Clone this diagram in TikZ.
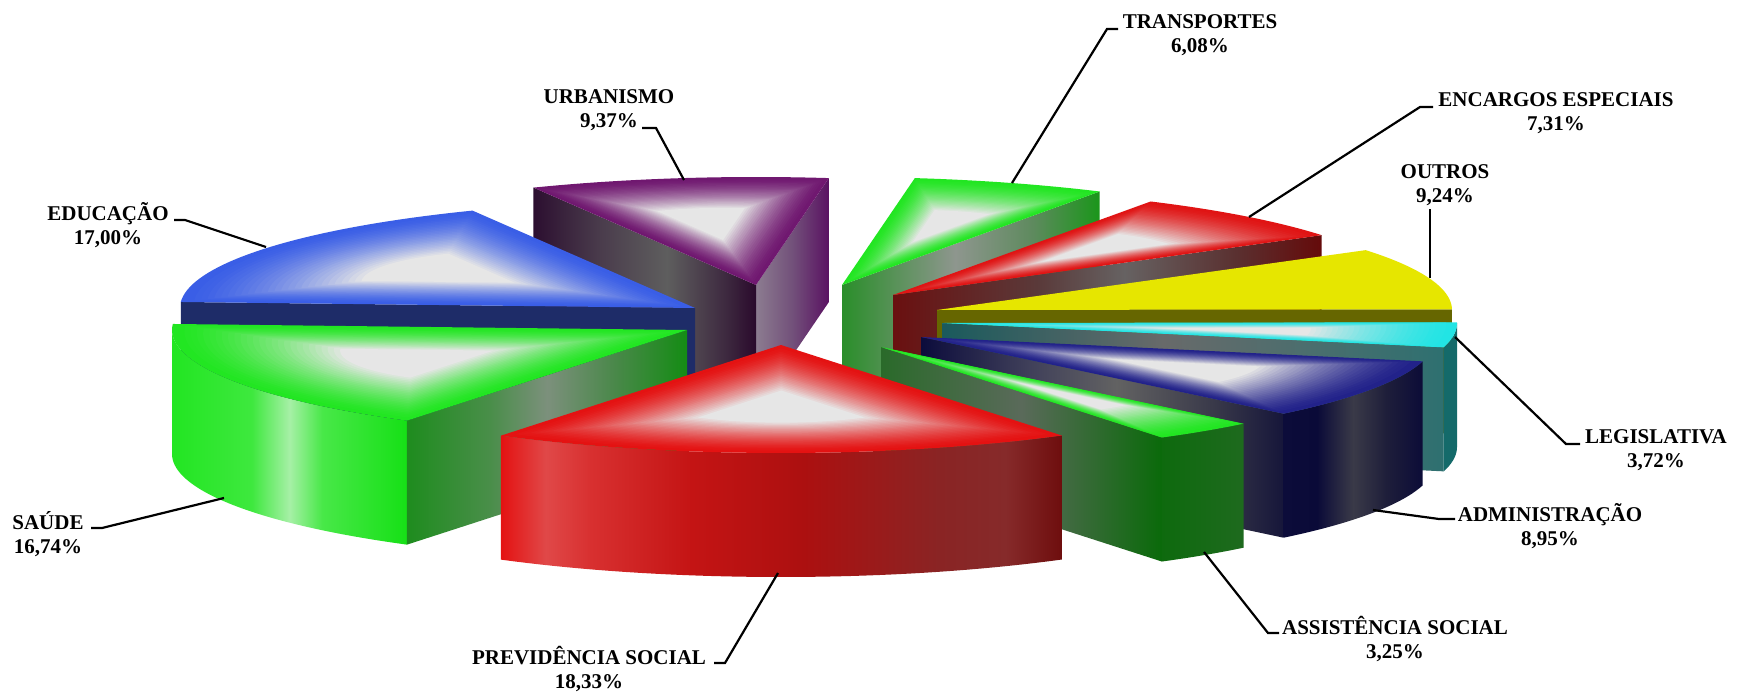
\documentclass[tikz,border=0pt]{standalone}
\usepackage{fontspec}
\setmainfont{Liberation Serif}
\def\RX{515}
\def\RY{108}
\def\DP{124}
% colours
\definecolor{hl}{HTML}{E6E6E6}
\definecolor{urbT}{HTML}{701870}
\definecolor{traT}{HTML}{22E622}
\definecolor{encT}{HTML}{E01414}
\definecolor{outT}{HTML}{E6E600}
\definecolor{outS}{HTML}{666600}
\definecolor{legT}{HTML}{22E4E4}
\definecolor{legO}{HTML}{146A6A}
\definecolor{admT}{HTML}{22228A}
\definecolor{assT}{HTML}{22E622}
\definecolor{eduT}{HTML}{3A5EE6}
\definecolor{eduS}{HTML}{1E2C68}
\definecolor{sauT}{HTML}{22E622}
\definecolor{preT}{HTML}{E41212}
\definecolor{uL0}{HTML}{2C0F30}\definecolor{uL1}{HTML}{4A3C4C}\definecolor{uL2}{HTML}{5E5E5E}\definecolor{uL3}{HTML}{3E2A40}\definecolor{uL4}{HTML}{2A0A2C}
\definecolor{uR0}{HTML}{8C7C90}\definecolor{uR1}{HTML}{72507A}\definecolor{uR2}{HTML}{5A1262}
\definecolor{tR0}{HTML}{2A8E2A}\definecolor{tR1}{HTML}{8E968E}\definecolor{tR2}{HTML}{5E8A5E}\definecolor{tR3}{HTML}{1A961A}
\definecolor{eR0}{HTML}{6A1010}\definecolor{eR1}{HTML}{5A3A3A}\definecolor{eR2}{HTML}{666262}\definecolor{eR3}{HTML}{5A3030}\definecolor{eR4}{HTML}{650A0A}
\definecolor{lR0}{HTML}{1A5A5C}\definecolor{lR1}{HTML}{686A6A}\definecolor{lR2}{HTML}{4A6E6E}\definecolor{lR3}{HTML}{2E7070}
\definecolor{aR0}{HTML}{0C0C3C}\definecolor{aR1}{HTML}{40405A}\definecolor{aR2}{HTML}{626262}\definecolor{aR3}{HTML}{3A3A4A}\definecolor{aR4}{HTML}{16163A}
\definecolor{aO0}{HTML}{0C0C3A}\definecolor{aO1}{HTML}{0A0A38}\definecolor{aO2}{HTML}{3A3A48}\definecolor{aO3}{HTML}{1E1E3A}\definecolor{aO4}{HTML}{0C0C38}
\definecolor{sR0}{HTML}{2A6A2A}\definecolor{sR1}{HTML}{5A6A5A}\definecolor{sR2}{HTML}{2A6A2A}\definecolor{sR3}{HTML}{0A6A0A}
\definecolor{sO0}{HTML}{0E6A0E}\definecolor{sO1}{HTML}{1E6A1E}
\definecolor{gO0}{HTML}{22E622}\definecolor{gO1}{HTML}{3EE83E}\definecolor{gO2}{HTML}{A6F0A6}\definecolor{gO3}{HTML}{48E848}\definecolor{gO4}{HTML}{16E016}
\definecolor{gR0}{HTML}{1E8C1E}\definecolor{gR1}{HTML}{4A8E4A}\definecolor{gR2}{HTML}{7C907C}\definecolor{gR3}{HTML}{4A884A}\definecolor{gR4}{HTML}{148C14}
\definecolor{pO0}{HTML}{E41212}\definecolor{pO1}{HTML}{E04848}\definecolor{pO2}{HTML}{D83030}\definecolor{pO3}{HTML}{C41414}\definecolor{pO4}{HTML}{AC1010}\definecolor{pO5}{HTML}{8A2424}\definecolor{pO6}{HTML}{862A2A}\definecolor{pO7}{HTML}{6E0E0E}
% shadings (inner 25bp..75bp is stretched over the face)
\pgfdeclarehorizontalshading{urbL}{100bp}{color(0bp)=(uL0); color(25bp)=(uL0); color(40bp)=(uL1); color(55bp)=(uL2); color(68bp)=(uL3); color(75bp)=(uL4); color(100bp)=(uL4)}
\pgfdeclarehorizontalshading{urbR}{100bp}{color(0bp)=(uR0); color(25bp)=(uR0); color(50bp)=(uR1); color(75bp)=(uR2); color(100bp)=(uR2)}
\pgfdeclarehorizontalshading{traR}{100bp}{color(0bp)=(tR0); color(25bp)=(tR0); color(47bp)=(tR1); color(62bp)=(tR2); color(75bp)=(tR3); color(100bp)=(tR3)}
\pgfdeclarehorizontalshading{encR}{100bp}{color(0bp)=(eR0); color(25bp)=(eR0); color(42bp)=(eR1); color(52bp)=(eR2); color(65bp)=(eR3); color(75bp)=(eR4); color(100bp)=(eR4)}
\pgfdeclarehorizontalshading{legR}{100bp}{color(0bp)=(lR0); color(25bp)=(lR0); color(47bp)=(lR1); color(62bp)=(lR2); color(75bp)=(lR3); color(100bp)=(lR3)}
\pgfdeclarehorizontalshading{admR}{100bp}{color(0bp)=(aR0); color(25bp)=(aR0); color(40bp)=(aR1); color(52bp)=(aR2); color(65bp)=(aR3); color(75bp)=(aR4); color(100bp)=(aR4)}
\pgfdeclarehorizontalshading{admO}{100bp}{color(0bp)=(aO0); color(25bp)=(aO0); color(37bp)=(aO1); color(50bp)=(aO2); color(62bp)=(aO3); color(75bp)=(aO4); color(100bp)=(aO4)}
\pgfdeclarehorizontalshading{assR}{100bp}{color(0bp)=(sR0); color(25bp)=(sR0); color(50bp)=(sR1); color(65bp)=(sR2); color(75bp)=(sR3); color(100bp)=(sR3)}
\pgfdeclarehorizontalshading{assO}{100bp}{color(0bp)=(sO0); color(25bp)=(sO0); color(75bp)=(sO1); color(100bp)=(sO1)}
\pgfdeclarehorizontalshading{sauO}{100bp}{color(0bp)=(gO0); color(25bp)=(gO0); color(42bp)=(gO1); color(50bp)=(gO2); color(57bp)=(gO3); color(75bp)=(gO4); color(100bp)=(gO4)}
\pgfdeclarehorizontalshading{sauR}{100bp}{color(0bp)=(gR0); color(25bp)=(gR0); color(40bp)=(gR1); color(50bp)=(gR2); color(62bp)=(gR3); color(75bp)=(gR4); color(100bp)=(gR4)}
\pgfdeclarehorizontalshading{preO}{100bp}{color(0bp)=(pO0); color(25bp)=(pO0); color(29bp)=(pO1); color(33bp)=(pO2); color(42bp)=(pO3); color(52bp)=(pO4); color(64bp)=(pO5); color(70bp)=(pO6); color(75bp)=(pO7); color(100bp)=(pO7)}
% faces: #1 cx, #2 cy, angles in degrees (90 = back)
\newcommand\radface[4]{%
  \path[#4] (#1,#2) -- ({#1+\RX*cos(#3)},{#2-\RY*sin(#3)}) -- ({#1+\RX*cos(#3)},{#2-\RY*sin(#3)+\DP}) -- (#1,{#2+\DP}) -- cycle;}
\newcommand\outerface[5]{%
  \path[#5] plot[domain=#3:#4,samples=40,variable=\q] ({#1+\RX*cos(\q)},{#2-\RY*sin(\q)}) -- plot[domain=#4:#3,samples=40,variable=\q] ({#1+\RX*cos(\q)},{#2-\RY*sin(\q)+\DP}) -- cycle;}
\newcommand\flatface[5]{%
  \fill[#5] (#1,#2) -- plot[domain=#3:#4,samples=40,variable=\q] ({#1+\RX*cos(\q)},{#2-\RY*sin(\q)}) -- cycle;}
\newcommand\topface[6]{%
  \pgfmathsetmacro\myM{(#3+#4)/2}%
  \pgfmathsetmacro\gx{#1+0.6*\RX*cos(\myM)}%
  \pgfmathsetmacro\gy{#2-0.6*\RY*sin(\myM)}%
  \foreach \i in {0,...,27}{%
    \pgfmathsetmacro\myS{1-\i*0.026}%
    \pgfmathtruncatemacro\myP{100*(\i/27)^1.5}%
    \colorlet{tfc}{#6!\myP!#5}%
    \fill[tfc] ({\gx+\myS*(#1-\gx)},{\gy+\myS*(#2-\gy)}) -- plot[domain=#3:#4,samples=40,variable=\q] ({\gx+\myS*(#1+\RX*cos(\q)-\gx)},{\gy+\myS*(#2-\RY*sin(\q)-\gy)}) -- cycle;
  }}
\tikzset{
  lbl/.style={font=\bfseries\fontsize{21}{24}\selectfont, align=center, inner sep=0pt},
  leader/.style={line width=2.2pt, black}
}
\begin{document}
\begin{tikzpicture}[x=1pt,y=-1pt]
\useasboundingbox (0,0) rectangle (1737,693);
\fill[white] (0,0) rectangle (1737,693);
% Urbanismo
\radface{756}{285}{81.87}{shade,shading=urbR}
\radface{756}{285}{115.6}{shade,shading=urbL}
\topface{756}{285}{81.87}{115.6}{urbT}{hl}
% Transportes
\radface{842}{285}{59.98}{shade,shading=traR}
\topface{842}{285}{59.98}{81.87}{traT}{hl}
% Encargos especiais
\radface{893}{295}{33.66}{shade,shading=encR}
\topface{893}{295}{33.66}{59.98}{encT}{hl}
% Outros
\radface{937}{310}{0.36}{fill=outS}
\flatface{937}{310}{0.36}{33.66}{outT}
% Legislativa
\radface{942}{323}{346.97}{shade,shading=legR}
\outerface{942}{323}{346.97}{360}{fill=legO}
\topface{942}{323}{346.97}{360.36}{legT}{hl}
% Administracao
\radface{921}{337}{314.75}{shade,shading=admR}
\outerface{921}{337}{314.75}{346.97}{shade,shading=admO}
\topface{921}{337}{314.75}{346.97}{admT}{hl}
% Assistencia social
\radface{881}{347}{303.05}{shade,shading=assR}
\outerface{881}{347}{303.05}{314.75}{shade,shading=assO}
\topface{881}{347}{303.05}{314.75}{assT}{hl}
% Educacao
\radface{695}{308}{176.8}{fill=eduS}
\topface{695}{308}{115.6}{176.8}{eduT}{hl}
% Saude
\outerface{687}{330}{180}{237.06}{shade,shading=sauO}
\radface{687}{330}{237.06}{shade,shading=sauR}
\topface{687}{330}{176.8}{237.06}{sauT}{hl}
% Previdencia social
\outerface{781}{345}{237.06}{303.05}{shade,shading=preO}
\topface{781}{345}{237.06}{303.05}{preT}{hl}

% labels
\node[lbl] (lUrb) at (609,110) {URBANISMO\\9,37\%};
\node[lbl] (lEdu) at (108,225) {EDUCAÇÃO\\17,00\%};
\node[lbl] (lSau) at (48,534) {SAÚDE\\16,74\%};
\node[lbl] (lPre) at (589,669) {PREVIDÊNCIA SOCIAL\\18,33\%};
\node[lbl] (lAss) at (1395,639) {ASSISTÊNCIA SOCIAL\\3,25\%};
\node[lbl] (lAdm) at (1550,526) {ADMINISTRAÇÃO\\8,95\%};
\node[lbl] (lLeg) at (1656,450) {LEGISLATIVA\\3,72\%};
\node[lbl] (lOut) at (1445,185) {OUTROS\\9,24\%};
\node[lbl] (lEnc) at (1556,113) {ENCARGOS ESPECIAIS\\7,31\%};
\node[lbl] (lTra) at (1200,35) {TRANSPORTES\\6,08\%};

% leader points
\coordinate (uA) at (642,128); \coordinate (uB) at (656,128); \coordinate (uC) at (684,180);
\coordinate (dA) at (174,220); \coordinate (dB) at (185,220); \coordinate (dC) at (266,247);
\coordinate (sA) at (91,528);  \coordinate (sB) at (102,528); \coordinate (sC) at (224,498);
\coordinate (pA) at (714,663); \coordinate (pB) at (725,663); \coordinate (pC) at (778,573);
\coordinate (aA) at (1279,633); \coordinate (aB) at (1268,633); \coordinate (aC) at (1204,552);
\coordinate (mA) at (1455,519); \coordinate (mB) at (1439,519); \coordinate (mC) at (1373,510);
\coordinate (gA) at (1580,444); \coordinate (gB) at (1566,444); \coordinate (gC) at (1455,337);
\coordinate (oA) at (1430,209); \coordinate (oC) at (1430,278);
\coordinate (eA) at (1433,107); \coordinate (eB) at (1420,107); \coordinate (eC) at (1249,217);
\coordinate (tA) at (1118,29); \coordinate (tB) at (1107,29); \coordinate (tC) at (1012,183);

\draw[leader] (uA) -- (uB) -- (uC);
\draw[leader] (dA) -- (dB) -- (dC);
\draw[leader] (sA) -- (sB) -- (sC);
\draw[leader] (pA) -- (pB) -- (pC);
\draw[leader] (aA) -- (aB) -- (aC);
\draw[leader] (mA) -- (mB) -- (mC);
\draw[leader] (gA) -- (gB) -- (gC);
\draw[leader] (oA) -- (oC);
\draw[leader] (eA) -- (eB) -- (eC);
\draw[leader] (tA) -- (tB) -- (tC);
\end{tikzpicture}
\end{document}
